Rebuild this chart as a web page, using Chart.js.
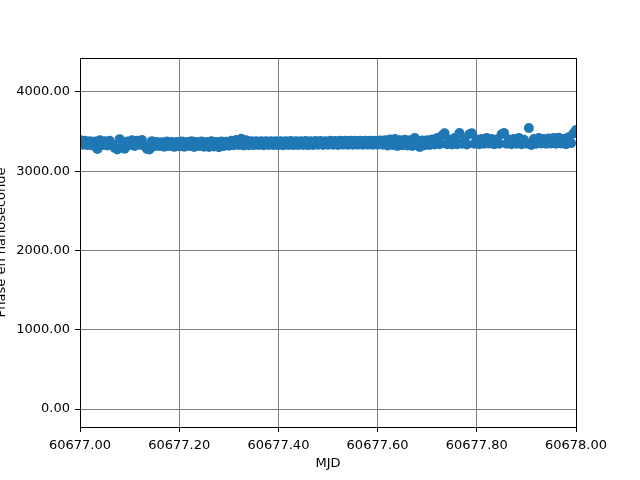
<!DOCTYPE html>
<html>
<head>
<meta charset="utf-8">
<script src="https://cdn.jsdelivr.net/npm/chart.js@4/dist/chart.umd.min.js"></script>
<style>
    html, body { margin: 0; padding: 0; background: #fff; }
    #wrap { width: 640px; height: 480px; }
</style>
</head>
<body>
<div id="wrap"><canvas id="phaseChart" width="640" height="480"></canvas></div>
<script>
// MJD day start and fractional sample times
var mjdStart = 60677;
var mjdFrac = [
    0.000, 0.005, 0.010, 0.015, 0.020, 0.025, 0.030, 0.035, 0.040, 0.045,
    0.050, 0.055, 0.060, 0.065, 0.070, 0.075, 0.080, 0.085, 0.090, 0.095,
    0.100, 0.105, 0.110, 0.115, 0.120, 0.125, 0.130, 0.135, 0.140, 0.145,
    0.150, 0.155, 0.160, 0.165, 0.170, 0.175, 0.180, 0.185, 0.190, 0.195,
    0.200, 0.205, 0.210, 0.215, 0.220, 0.225, 0.230, 0.235, 0.240, 0.245,
    0.250, 0.255, 0.260, 0.265, 0.270, 0.275, 0.280, 0.285, 0.290, 0.295,
    0.300, 0.305, 0.310, 0.315, 0.320, 0.325, 0.330, 0.335, 0.340, 0.345,
    0.350, 0.355, 0.360, 0.365, 0.370, 0.375, 0.380, 0.385, 0.390, 0.395,
    0.400, 0.405, 0.410, 0.415, 0.420, 0.425, 0.430, 0.435, 0.440, 0.445,
    0.450, 0.455, 0.460, 0.465, 0.470, 0.475, 0.480, 0.485, 0.490, 0.495,
    0.500, 0.505, 0.510, 0.515, 0.520, 0.525, 0.530, 0.535, 0.540, 0.545,
    0.550, 0.555, 0.560, 0.565, 0.570, 0.575, 0.580, 0.585, 0.590, 0.595,
    0.600, 0.605, 0.610, 0.615, 0.620, 0.625, 0.630, 0.635, 0.640, 0.645,
    0.650, 0.655, 0.660, 0.665, 0.670, 0.675, 0.680, 0.685, 0.690, 0.695,
    0.700, 0.705, 0.710, 0.715, 0.720, 0.725, 0.730, 0.735, 0.740, 0.745,
    0.750, 0.755, 0.760, 0.765, 0.770, 0.775, 0.780, 0.785, 0.790, 0.795,
    0.800, 0.805, 0.810, 0.815, 0.820, 0.825, 0.830, 0.835, 0.840, 0.845,
    0.850, 0.855, 0.860, 0.865, 0.870, 0.875, 0.880, 0.885, 0.890, 0.895,
    0.900, 0.905, 0.910, 0.915, 0.920, 0.925, 0.930, 0.935, 0.940, 0.945,
    0.950, 0.955, 0.960, 0.965, 0.970, 0.975, 0.980, 0.985, 0.990, 0.995, 1.000
];
// phase in nanoseconds
var phaseNs = [
    3395, 3335, 3385, 3330, 3380, 3325, 3375, 3280, 3390, 3330,
    3380, 3325, 3385, 3335, 3295, 3275, 3405, 3305, 3285, 3375,
    3330, 3390, 3320, 3385, 3335, 3395, 3315, 3280, 3275, 3380,
    3315, 3370, 3320, 3365, 3310, 3375, 3318, 3368, 3308, 3370,
    3315, 3375, 3310, 3370, 3320, 3380, 3305, 3368, 3318, 3375,
    3310, 3370, 3305, 3378, 3312, 3368, 3302, 3375, 3318, 3372,
    3322, 3385, 3328, 3395, 3332, 3410, 3325, 3390, 3328, 3380,
    3330, 3378, 3332, 3380, 3328, 3378, 3332, 3380, 3330, 3378,
    3330, 3380, 3328, 3378, 3332, 3382, 3330, 3380, 3332, 3380,
    3332, 3382, 3330, 3380, 3332, 3382, 3334, 3382, 3332, 3380,
    3334, 3384, 3334, 3382, 3332, 3384, 3336, 3384, 3334, 3384,
    3334, 3386, 3336, 3384, 3334, 3386, 3336, 3386, 3334, 3386,
    3336, 3388, 3334, 3392, 3325, 3402, 3332, 3408, 3320, 3392,
    3328, 3398, 3325, 3392, 3320, 3418, 3328, 3305, 3388, 3328,
    3392, 3332, 3402, 3338, 3418, 3342, 3452, 3478, 3342, 3398,
    3338, 3418, 3342, 3482, 3346, 3408, 3338, 3468, 3478, 3346,
    3402, 3342, 3408, 3346, 3418, 3350, 3408, 3342, 3402, 3346,
    3468, 3482, 3346, 3402, 3342, 3408, 3346, 3418, 3342, 3398,
    3346, 3546, 3332, 3408, 3346, 3418, 3350, 3408, 3346, 3412,
    3350, 3418, 3346, 3422, 3350, 3408, 3342, 3428, 3355, 3478, 3520
];
var xTicks = [60677.0, 60677.2, 60677.4, 60677.6, 60677.8, 60678.0];
var yTicks = [0, 1000, 2000, 3000, 4000];

var tickFont = { family: 'DejaVu Sans', size: 13 };

// spines on all four sides plus the clipped y label
var framePlugin = {
    id: 'frame',
    afterDraw: function (chart) {
        var ctx = chart.ctx;
        var a = chart.chartArea;
        ctx.save();
        ctx.strokeStyle = '#000';
        ctx.lineWidth = 1;
        ctx.strokeRect(Math.round(a.left) + 0.5, Math.round(a.top) + 0.5,
            Math.round(a.right - a.left), Math.round(a.bottom - a.top));
        ctx.translate(5, (a.top + a.bottom) / 2);
        ctx.rotate(-Math.PI / 2);
        ctx.fillStyle = '#000';
        ctx.font = '13px "DejaVu Sans"';
        ctx.textAlign = 'center';
        ctx.textBaseline = 'alphabetic';
        ctx.fillText('Phase en nanoseconde', 0, 0);
        ctx.restore();
    }
};

function buildPoints() {
    var pts = [];
    for (var i = 0; i < phaseNs.length; i++) {
        pts.push({ x: mjdStart + mjdFrac[i], y: phaseNs[i] });
    }
    return pts;
}

new Chart(document.getElementById('phaseChart'), {
    type: 'scatter',
    data: {
        datasets: [{
            data: buildPoints(),
            backgroundColor: '#1f77b4',
            borderColor: '#1f77b4',
            borderWidth: 0,
            pointRadius: 5
        }]
    },
    options: {
        responsive: false,
        animation: false,
        layout: { padding: { left: 0, top: 58, right: 64, bottom: 0 } },
        plugins: { legend: { display: false }, tooltip: { enabled: false } },
        scales: {
            x: {
                type: 'linear',
                min: 60677,
                max: 60678,
                afterBuildTicks: function (scale) {
                    scale.ticks = xTicks.map(function (v) { return { value: v }; });
                },
                afterFit: function (scale) { scale.height = 53; },
                grid: { color: '#808080', lineWidth: 1, tickColor: '#000', tickLength: 5 },
                border: { display: false },
                ticks: {
                    color: '#000',
                    font: tickFont,
                    padding: 6,
                    maxRotation: 0,
                    autoSkip: false,
                    callback: function (v) { return Number(v).toFixed(2); }
                },
                title: {
                    display: true,
                    text: 'MJD',
                    color: '#000',
                    font: tickFont,
                    padding: { top: 0, bottom: 9 }
                }
            },
            y: {
                type: 'linear',
                min: -227,
                max: 4429,
                afterBuildTicks: function (scale) {
                    scale.ticks = yTicks.map(function (v) { return { value: v }; });
                },
                afterFit: function (scale) { scale.width = 80; },
                grid: { color: '#808080', lineWidth: 1, tickColor: '#000', tickLength: 5 },
                border: { display: false },
                ticks: {
                    color: '#000',
                    font: tickFont,
                    padding: 5,
                    callback: function (v) { return Number(v).toFixed(2); }
                }
            }
        }
    },
    plugins: [framePlugin]
});
</script>
</body>
</html>
